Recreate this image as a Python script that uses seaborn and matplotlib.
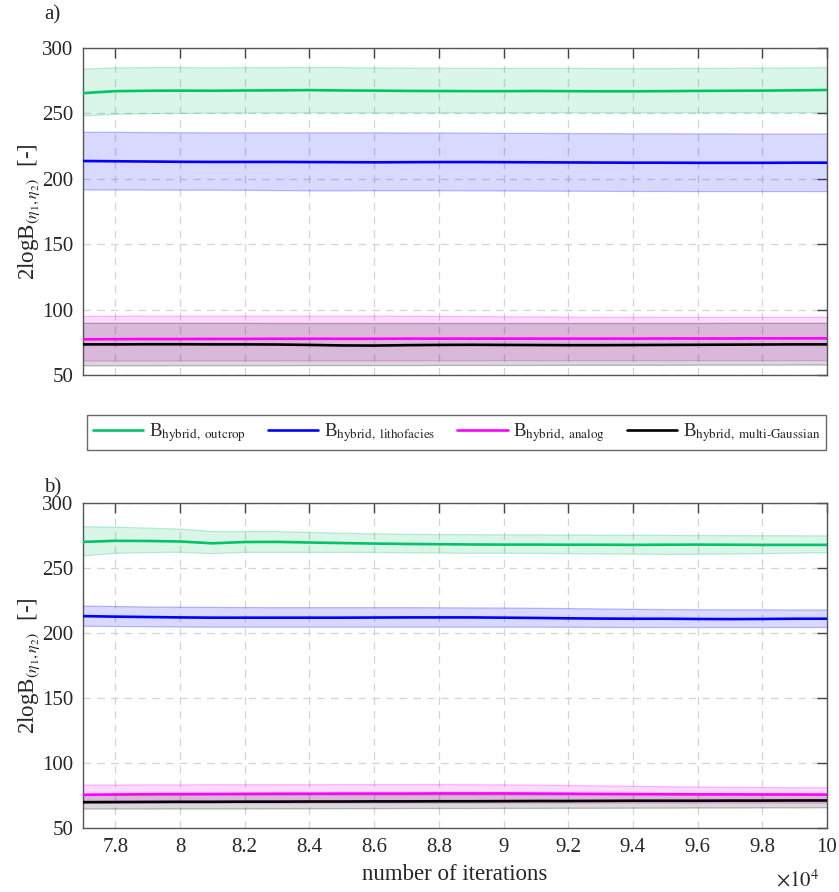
import numpy as np
import pandas as pd
import matplotlib
matplotlib.use("Agg")
import matplotlib.pyplot as plt
from matplotlib.ticker import FuncFormatter, MultipleLocator
import seaborn as sns

# iteration counts at which the Bayes factors were evaluated
iterations = [77000, 78000, 79000, 80000, 81000, 82000, 83000, 84000,
              85000, 86000, 87000, 88000, 89000, 90000, 91000, 92000,
              93000, 94000, 95000, 96000, 97000, 98000, 99000, 100000]

models = [r"B$_{\mathrm{hybrid,\ outcrop}}$",
          r"B$_{\mathrm{hybrid,\ lithofacies}}$",
          r"B$_{\mathrm{hybrid,\ analog}}$",
          r"B$_{\mathrm{hybrid,\ multi\text{-}Gaussian}}$"]
line_colors = ["#00C466", "#0000FF", "#FF00FF", "#000000"]

# ---- panel a) ----
a_outcrop_mean = [265.5, 267.0, 267.3, 267.4, 267.3, 267.5, 267.6, 267.8, 267.5, 267.4, 267.2, 267.1,
                  267.0, 267.0, 267.1, 267.0, 266.9, 266.9, 267.0, 267.2, 267.3, 267.4, 267.6, 267.9]
a_outcrop_hi = [283.8, 284.8, 285.0, 285.0, 284.8, 284.9, 285.0, 285.1, 285.0, 284.7, 284.6, 284.5,
                284.5, 284.4, 284.4, 284.4, 284.3, 284.3, 284.3, 284.4, 284.5, 284.6, 284.7, 284.9]
a_outcrop_lo = [248.0, 249.3, 249.8, 250.0, 250.2, 250.3, 250.3, 250.4, 250.3, 250.3, 250.4, 250.4,
                250.4, 250.4, 250.5, 250.5, 250.4, 250.4, 250.4, 250.5, 250.5, 250.6, 250.6, 250.7]

a_litho_mean = [213.6, 213.4, 213.2, 213.0, 212.9, 212.9, 212.9, 212.8, 212.7, 212.6, 212.7, 212.8,
                212.8, 212.7, 212.6, 212.5, 212.4, 212.3, 212.3, 212.2, 212.2, 212.2, 212.3, 212.3]
a_litho_hi = [235.6, 235.5, 235.3, 235.2, 235.1, 235.1, 235.1, 235.1, 235.1, 235.1, 235.0, 235.0,
              234.9, 234.8, 234.7, 234.6, 234.5, 234.4, 234.4, 234.3, 234.3, 234.2, 234.2, 234.2]
a_litho_lo = [191.5, 191.4, 191.4, 191.3, 191.3, 191.2, 191.0, 190.8, 190.8, 190.9, 190.9, 190.9,
              190.8, 190.7, 190.6, 190.5, 190.4, 190.3, 190.3, 190.2, 190.2, 190.2, 190.2, 190.2]

a_analog_mean = [77.3, 77.4, 77.5, 77.5, 77.6, 77.6, 77.7, 77.7, 77.7, 77.7, 77.8, 77.8,
                 77.8, 77.8, 77.8, 77.8, 77.8, 77.8, 77.9, 77.9, 77.9, 78.0, 78.0, 78.0]
a_analog_hi = [94.8, 94.9, 95.0, 95.0, 95.0, 95.0, 95.0, 95.0, 95.0, 95.0, 94.9, 94.8,
               94.7, 94.5, 94.4, 94.3, 94.2, 94.2, 94.1, 94.1, 94.1, 94.1, 94.1, 94.1]
a_analog_lo = [60.7, 60.7, 60.7, 60.8, 60.8, 60.8, 60.8, 60.8, 60.8, 60.8, 60.8, 60.8,
               60.8, 60.9, 60.9, 60.9, 60.9, 60.9, 61.0, 61.0, 61.0, 61.0, 61.0, 61.0]

a_mg_mean = [73.4, 73.4, 73.5, 73.5, 73.4, 73.4, 73.3, 73.0, 72.6, 72.5, 72.8, 73.0,
             73.1, 73.0, 72.9, 72.8, 72.8, 72.9, 73.0, 73.1, 73.2, 73.3, 73.4, 73.4]
a_mg_hi = [89.5, 89.5, 89.5, 89.5, 89.5, 89.5, 89.4, 89.4, 89.4, 89.4, 89.4, 89.4,
           89.4, 89.4, 89.4, 89.4, 89.4, 89.4, 89.4, 89.4, 89.5, 89.5, 89.5, 89.5]
a_mg_lo = [57.0, 57.0, 57.0, 57.1, 57.1, 57.1, 57.1, 57.2, 57.2, 57.2, 57.2, 57.3,
           57.3, 57.3, 57.3, 57.4, 57.4, 57.4, 57.4, 57.5, 57.5, 57.5, 57.6, 57.6]

# ---- panel b) ----
b_outcrop_mean = [270.1, 270.9, 270.8, 270.4, 269.0, 270.0, 270.1, 269.6, 269.2, 268.8, 268.5, 268.3,
                  268.1, 268.0, 268.0, 267.9, 267.9, 267.8, 267.9, 268.0, 267.9, 267.8, 267.8, 267.8]
b_outcrop_hi = [281.8, 281.4, 280.7, 279.9, 278.1, 278.1, 278.0, 277.4, 276.8, 276.2, 275.9, 275.7,
                275.6, 275.5, 275.5, 275.4, 275.3, 275.2, 275.1, 275.0, 274.9, 274.8, 274.8, 274.7]
b_outcrop_lo = [259.3, 261.3, 261.8, 262.1, 261.0, 262.0, 262.0, 262.0, 262.0, 262.0, 261.7, 261.5,
                261.3, 261.3, 261.2, 261.0, 260.8, 260.6, 260.5, 260.5, 260.7, 261.0, 261.4, 261.8]

b_litho_mean = [213.0, 212.6, 212.3, 212.0, 211.8, 211.8, 211.8, 211.8, 211.8, 211.9, 212.0, 212.0,
                212.0, 211.8, 211.6, 211.3, 211.1, 211.0, 211.0, 210.8, 210.7, 210.8, 211.0, 211.0]
b_litho_hi = [220.7, 220.4, 220.0, 219.8, 219.7, 219.6, 219.5, 219.5, 219.5, 219.5, 219.5, 219.4,
              219.3, 219.2, 219.0, 218.8, 218.5, 218.2, 218.0, 217.9, 217.8, 217.8, 217.7, 217.7]
b_litho_lo = [205.2, 205.0, 204.8, 204.6, 204.5, 204.5, 204.5, 204.5, 204.5, 204.5, 204.5, 204.5,
              204.5, 204.5, 204.5, 204.4, 204.3, 204.2, 204.2, 204.2, 204.2, 204.2, 204.2, 204.3]

b_analog_mean = [75.6, 75.8, 76.0, 76.1, 76.2, 76.3, 76.4, 76.4, 76.5, 76.5, 76.5, 76.6,
                 76.6, 76.6, 76.5, 76.4, 76.2, 76.1, 76.0, 75.9, 75.9, 75.8, 75.8, 75.7]
b_analog_hi = [83.0, 83.1, 83.2, 83.2, 83.3, 83.3, 83.3, 83.3, 83.4, 83.4, 83.4, 83.4,
               83.3, 83.2, 83.0, 82.7, 82.4, 82.1, 81.8, 81.5, 81.3, 81.1, 81.0, 81.0]
b_analog_lo = [69.0, 69.0, 69.1, 69.1, 69.1, 69.2, 69.2, 69.2, 69.2, 69.2, 69.2, 69.2,
               69.2, 69.2, 69.2, 69.2, 69.2, 69.2, 69.2, 69.2, 69.2, 69.2, 69.2, 69.2]

b_mg_mean = [69.9, 70.0, 70.1, 70.2, 70.2, 70.3, 70.3, 70.4, 70.4, 70.5, 70.5, 70.6,
             70.6, 70.7, 70.8, 70.8, 70.9, 71.0, 71.0, 71.0, 71.1, 71.1, 71.2, 71.2]
b_mg_hi = [75.4, 75.4, 75.5, 75.5, 75.5, 75.5, 75.5, 75.6, 75.6, 75.6, 75.6, 75.6,
           75.6, 75.6, 75.6, 75.6, 75.7, 75.7, 75.7, 75.7, 75.7, 75.7, 75.7, 75.7]
b_mg_lo = [64.6, 64.6, 64.6, 64.7, 64.7, 64.7, 64.8, 64.8, 64.9, 64.9, 65.0, 65.0,
           65.0, 65.1, 65.1, 65.2, 65.2, 65.3, 65.3, 65.4, 65.4, 65.5, 65.5, 65.6]

panel_a = [(a_outcrop_mean, a_outcrop_lo, a_outcrop_hi),
           (a_litho_mean, a_litho_lo, a_litho_hi),
           (a_analog_mean, a_analog_lo, a_analog_hi),
           (a_mg_mean, a_mg_lo, a_mg_hi)]
panel_b = [(b_outcrop_mean, b_outcrop_lo, b_outcrop_hi),
           (b_litho_mean, b_litho_lo, b_litho_hi),
           (b_analog_mean, b_analog_lo, b_analog_hi),
           (b_mg_mean, b_mg_lo, b_mg_hi)]

sns.set_theme(style="white")
plt.rcParams["font.family"] = ["Liberation Serif", "DejaVu Serif"]
plt.rcParams["mathtext.fontset"] = "stix"
plt.rcParams["axes.unicode_minus"] = False

fig = plt.figure(figsize=(8.39, 8.92), dpi=100)
ax_a = fig.add_axes([0.0989, 0.5796, 0.8868, 0.3666])
ax_b = fig.add_axes([0.0989, 0.0717, 0.8868, 0.3644])


def draw_panel(ax, series, show_xlabels):
    frames = []
    for name, col, (mean, lo, hi) in zip(models, line_colors, series):
        ax.fill_between(iterations, lo, hi, facecolor=col, alpha=0.15,
                        edgecolor="none", zorder=1)
        ax.plot(iterations, lo, color=col, alpha=0.25, lw=0.9, zorder=1)
        ax.plot(iterations, hi, color=col, alpha=0.25, lw=0.9, zorder=1)
        frames.append(pd.DataFrame({"iterations": iterations, "value": mean, "model": name}))
    df = pd.concat(frames, ignore_index=True)
    sns.lineplot(data=df, x="iterations", y="value", hue="model", hue_order=models,
                 palette=line_colors, linewidth=1.9, ax=ax, legend=show_xlabels is False,
                 zorder=3)

    ax.set_xlim(77000, 100000)
    ax.set_ylim(50, 300)
    ax.xaxis.set_major_locator(MultipleLocator(2000))
    ax.yaxis.set_major_locator(MultipleLocator(50))
    ax.xaxis.set_major_formatter(FuncFormatter(lambda v, _: f"{v / 1e4:g}"))
    ax.grid(True, linestyle=(0, (6, 5)), color="#d4d4d4", linewidth=0.9, zorder=0)
    ax.set_axisbelow(True)
    ax.tick_params(direction="in", length=7, width=1.0, color="#444444",
                   top=True, right=True, labelsize=15, pad=7)
    for sp in ax.spines.values():
        sp.set_color("#555555")
        sp.set_linewidth(1.0)
    ax.set_ylabel(r"2logB$_{(\eta_1,\eta_2)}$  [-]", fontsize=16.5, labelpad=0)
    if show_xlabels:
        ax.set_xlabel("number of iterations", fontsize=16.5, labelpad=5)
    else:
        ax.set_xlabel("")
        ax.tick_params(labelbottom=False)


draw_panel(ax_a, panel_a, False)
draw_panel(ax_b, panel_b, True)

handles, labels = ax_a.get_legend_handles_labels()
ax_a.get_legend().remove()
leg = fig.legend(handles, labels, loc="center", ncol=4, mode="expand",
                 bbox_to_anchor=(0.1037, 0.4989, 0.8808, 0.0325),
                 fontsize=13.5, frameon=True, fancybox=False, borderaxespad=0.0,
                 handlelength=2.7, handletextpad=0.3, columnspacing=0.6,
                 borderpad=0.3)
leg.get_frame().set_edgecolor("#444444")
leg.get_frame().set_linewidth(1.0)

fig.text(0.053, 0.978, "a)", fontsize=15, va="baseline", ha="left")
fig.text(0.053, 0.4475, "b)", fontsize=15, va="baseline", ha="left")
fig.text(0.977, 0.001, r"$\times10^{4}$", fontsize=15, va="bottom", ha="right")

fig.savefig("out.png", dpi=100)
